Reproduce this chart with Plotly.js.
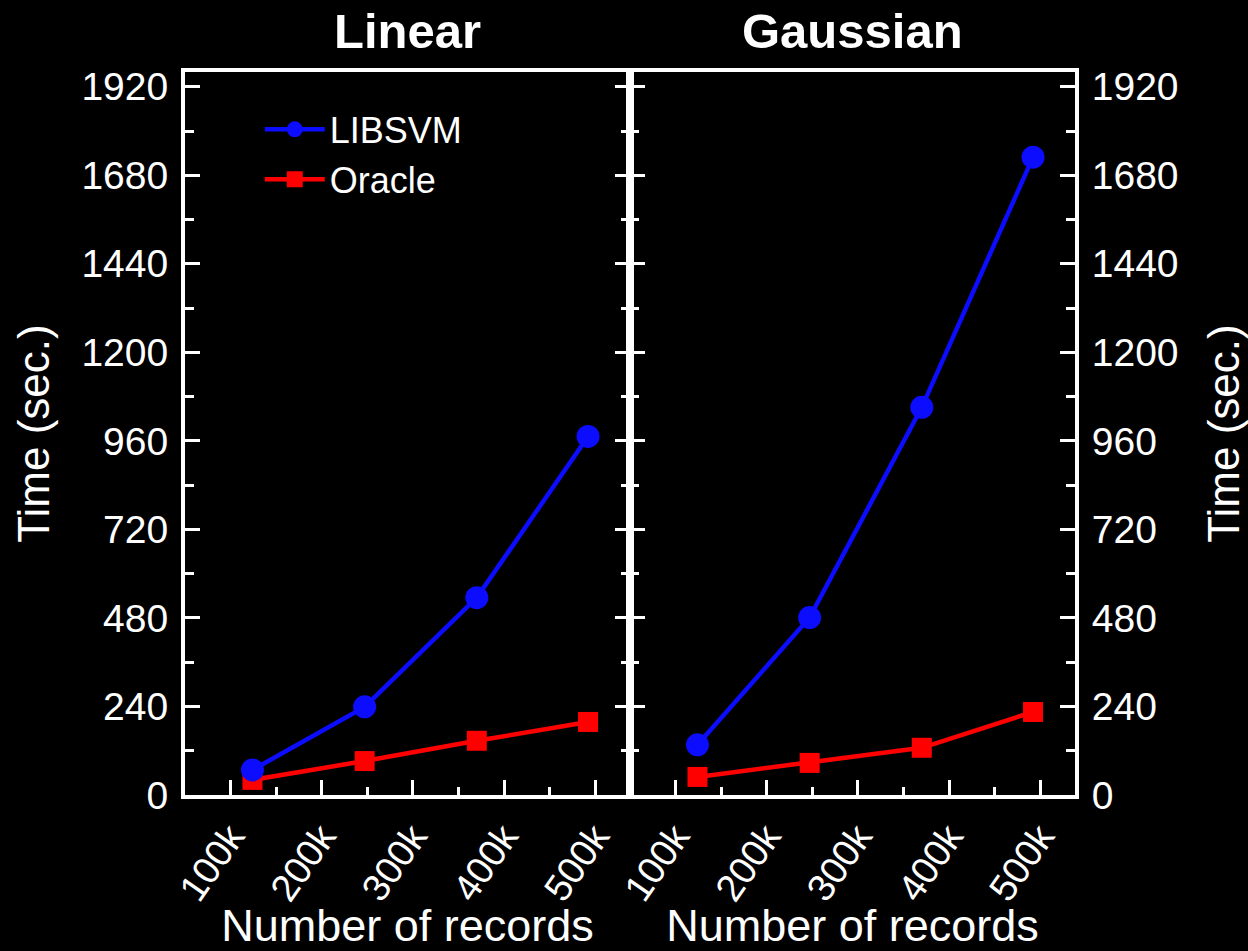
<!DOCTYPE html>
<html>
<head>
<meta charset="utf-8">
<script src="https://cdn.plot.ly/plotly-3.0.1.min.js"></script>
<style>
html,body{margin:0;padding:0;background:#000;}
#chart{width:1248px;height:951px;}
</style>
</head>
<body>
<div id="chart"></div>
<script>
// Data (x in thousands of records, y in seconds)
const records = [124, 247, 370, 492];
const linearLibsvm = [68, 239, 535, 972];
const linearOracle = [41, 92, 147, 198];
const gaussLibsvm = [136, 481, 1051, 1729];
const gaussOracle = [49, 87, 128, 225];
const panelTitles = ['Linear', 'Gaussian'];
const seriesNames = ['LIBSVM', 'Oracle'];

const FONT = 'Liberation Sans, Arial, Helvetica, sans-serif';
const BLUE = 'rgb(12,12,255)';
const RED = 'rgb(255,0,0)';

const libStyle = {mode:'lines+markers', line:{color:BLUE, width:4.5}, marker:{symbol:'circle', size:23, color:BLUE}};
const oraStyle = {mode:'lines+markers', line:{color:RED, width:4.5}, marker:{symbol:'square', size:20, color:RED}};

const traces = [
  Object.assign({x:records, y:linearOracle, name:seriesNames[1], xaxis:'x', yaxis:'y', legendrank:2}, oraStyle),
  Object.assign({x:records, y:linearLibsvm, name:seriesNames[0], xaxis:'x', yaxis:'y', legendrank:1}, libStyle),
  Object.assign({x:records, y:gaussOracle, name:seriesNames[1], xaxis:'x2', yaxis:'y2', showlegend:false}, oraStyle),
  Object.assign({x:records, y:gaussLibsvm, name:seriesNames[0], xaxis:'x2', yaxis:'y2', showlegend:false}, libStyle)
];

function xAxis(domain, anchor){
  return {
    domain: domain, anchor: anchor, range:[50, 538],
    tickmode:'linear', tick0:100, dtick:100, ticksuffix:'k',
    tickangle:-55,
    ticks:'inside', ticklen:15, tickwidth:3, tickcolor:'#fff',
    minor:{tickmode:'linear', tick0:50, dtick:50, ticks:'inside', ticklen:8, tickwidth:3, tickcolor:'#fff'},
    showline:true, linewidth:4, linecolor:'#fff', mirror:true,
    showgrid:false, zeroline:false,
    tickfont:{family:FONT, size:38, color:'#fff'},
    title:{text:'Number of records', font:{family:FONT, size:45, color:'#fff'}, standoff:8}
  };
}
function yAxis(anchor, side, standoff){
  return {
    anchor: anchor, side: side, range:[0, 1960],
    tickmode:'linear', tick0:0, dtick:240,
    ticks:'inside', ticklen:15, tickwidth:3, tickcolor:'#fff',
    minor:{tickmode:'linear', tick0:0, dtick:120, ticks:'inside', ticklen:9, tickwidth:3, tickcolor:'#fff'},
    showline:true, linewidth:4, linecolor:'#fff', mirror:'ticks',
    showgrid:false, zeroline:false,
    ticklabelstandoff:5,
    tickfont:{family:FONT, size:39, color:'#fff'},
    title:{text:'Time (sec.)', font:{family:FONT, size:44, color:'#fff'}, standoff:standoff}
  };
}

const layout = {
  width:1248, height:951,
  paper_bgcolor:'#000', plot_bgcolor:'#000',
  margin:{l:185, r:173, t:72, b:156},
  showlegend:true,
  legend:{x:0.084, y:0.962, xanchor:'left', yanchor:'top', bgcolor:'rgba(0,0,0,0)',
          font:{family:FONT, size:36, color:'#fff'}, tracegroupgap:0, itemwidth:60},
  xaxis: xAxis([0, 0.5], 'y'),
  yaxis: yAxis('x', 'left', 19),
  xaxis2: xAxis([0.5, 1], 'y2'),
  yaxis2: yAxis('x2', 'right', 33),
  annotations: panelTitles.map((t, i) => ({
    text:'<b>' + t + '</b>', xref:'paper', yref:'paper', x: i === 0 ? 0.25 : 0.75, y:1.057,
    xanchor:'center', yanchor:'middle', showarrow:false,
    font:{family:FONT, size:49, color:'#fff'}
  }))
};

Plotly.newPlot('chart', traces, layout, {displayModeBar:false, staticPlot:true});
</script>
</body>
</html>
